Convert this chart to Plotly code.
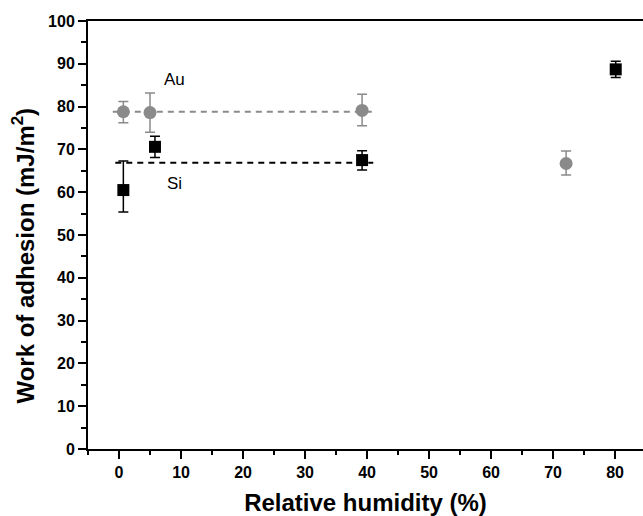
import plotly.graph_objects as go

au_x = [0.7, 5.0, 39.2, 72.1]
au_y = [78.8, 78.6, 79.1, 66.7]
au_err_plus = [2.4, 4.6, 3.8, 2.9]
au_err_minus = [2.6, 4.6, 3.6, 2.7]

si_x = [0.7, 5.8, 39.2, 80.1]
si_y = [60.5, 70.6, 67.5, 88.7]
si_err_plus = [6.8, 2.5, 2.2, 1.9]
si_err_minus = [5.1, 2.5, 2.3, 1.9]

au_mean_x = [-1.0, 40.8]
au_mean_y = [78.8, 78.8]
si_mean_x = [-0.6, 41.0]
si_mean_y = [66.9, 66.9]

GRAY = "#8a8a8a"
FONT = "Liberation Sans, Arial"

fig = go.Figure()
fig.add_trace(go.Scatter(x=au_mean_x, y=au_mean_y, mode="lines",
                         line=dict(color=GRAY, width=2, dash="6px,5px"), showlegend=False))
fig.add_trace(go.Scatter(x=si_mean_x, y=si_mean_y, mode="lines",
                         line=dict(color="black", width=2, dash="6px,5px"), showlegend=False))
fig.add_trace(go.Scatter(x=au_x, y=au_y, mode="markers",
                         marker=dict(symbol="circle", size=13, color=GRAY),
                         error_y=dict(type="data", array=au_err_plus, arrayminus=au_err_minus,
                                      color=GRAY, thickness=1.5, width=5),
                         showlegend=False))
fig.add_trace(go.Scatter(x=si_x, y=si_y, mode="markers",
                         marker=dict(symbol="square", size=12, color="black"),
                         error_y=dict(type="data", array=si_err_plus, arrayminus=si_err_minus,
                                      color="black", thickness=1.5, width=5),
                         showlegend=False))

fig.add_annotation(x=9.0, y=86.4, text="Au", showarrow=False,
                   font=dict(family=FONT, size=17, color="black"))
fig.add_annotation(x=9.0, y=62.1, text="Si", showarrow=False,
                   font=dict(family=FONT, size=17, color="black"))

# y-axis title placed as an annotation to match the reference's position
fig.add_annotation(xref="paper", yref="paper", x=0, y=0.452, xshift=-65,
                   xanchor="center", yanchor="middle", textangle=-90, showarrow=False,
                   text="<b>Work of adhesion (mJ/m<sup>2</sup>)</b>",
                   font=dict(family=FONT, size=24, color="black"))

axis_common = dict(showgrid=False, zeroline=False, showline=True, linecolor="black",
                   linewidth=2, ticks="outside", ticklen=8, tickwidth=2, tickcolor="black",
                   tickfont=dict(family=FONT, size=16, color="black", weight="bold"))

fig.update_xaxes(range=[-5, 84.5], tickvals=[0, 10, 20, 30, 40, 50, 60, 70, 80],
                 minor=dict(ticks="outside", ticklen=4, tickwidth=2, tickcolor="black", dtick=5, tick0=5),
                 mirror=True,
                 title=dict(text="Relative humidity (%)", standoff=16,
                            font=dict(family=FONT, size=24, color="black", weight="bold")),
                 **axis_common)
fig.update_yaxes(range=[0, 100], tickvals=[0, 10, 20, 30, 40, 50, 60, 70, 80, 90, 100],
                 minor=dict(ticks="outside", ticklen=5, tickwidth=2, tickcolor="black", dtick=5, tick0=5),
                 **axis_common)

fig.update_layout(width=643, height=516, margin=dict(l=88, r=0, t=21, b=67),
                  plot_bgcolor="white", paper_bgcolor="white")

fig.write_html("out.html")
